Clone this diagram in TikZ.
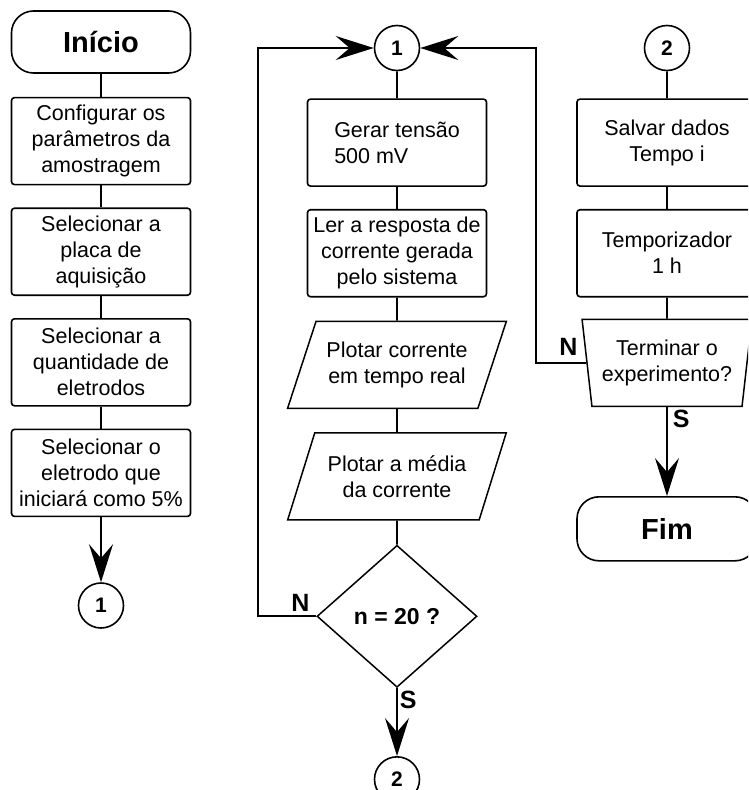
\documentclass[tikz,border=0pt]{standalone}
\usepackage{fontspec}
\setmainfont{Liberation Sans}
\usepackage{tikz}
\usetikzlibrary{arrows.meta, shapes.geometric, positioning}

\tikzset{
	proc/.style={rectangle, draw, line width=1.6pt, rounded corners=3pt, minimum width=179pt, minimum height=87pt, inner sep=2pt, align=center, font=\fontsize{21.5}{26}\selectfont},
	term/.style={rectangle, draw, line width=1.6pt, rounded corners=22pt, minimum width=179pt, minimum height=62pt, font=\fontsize{29}{34}\selectfont\bfseries},
	io/.style={trapezium, trapezium left angle=63, trapezium right angle=117, trapezium stretches=true, draw, line width=1.5pt, minimum width=219pt, minimum height=87pt, inner sep=2pt, align=center, font=\fontsize{21.5}{26}\selectfont},
	ask/.style={trapezium, trapezium left angle=100, trapezium right angle=100, trapezium stretches=true, draw, line width=1.5pt, minimum width=170pt, minimum height=87pt, inner sep=2pt, align=center, font=\fontsize{21.5}{26}\selectfont},
	test/.style={diamond, draw, line width=1.5pt, minimum width=160pt, minimum height=142pt, inner sep=0pt, font=\fontsize{23}{27}\selectfont\bfseries},
	conn/.style={circle, draw, line width=1.6pt, minimum size=45pt, inner sep=0pt, font=\fontsize{21}{24}\selectfont\bfseries},
	yn/.style={font=\fontsize{25}{28}\selectfont\bfseries, inner sep=2pt},
	line/.style={line width=1.8pt},
	arr/.style={line, -{Stealth[length=38pt, width=24pt, inset=14pt]}}
}

\begin{document}
\begin{tikzpicture}[x=1pt, y=-1pt]
	\useasboundingbox (0,0) rectangle (748,790);
	\clip (0,0) rectangle (748,790);

	% configuracao inicial
	\node[term] (ini) at (101,42) {Início};
	\node[proc, below=23pt of ini] (cfg) {Configurar os\\parâmetros da\\amostragem};
	\node[proc, below=22pt of cfg] (plc) {Selecionar a\\placa de\\aquisição};
	\node[proc, below=22pt of plc] (qtd) {Selecionar a\\quantidade de\\eletrodos};
	\node[proc, below=22pt of qtd] (ele) {Selecionar o\\eletrodo que\\iniciará como 5\%};
	\node[conn, below=65pt of ele] (c1a) {1};

	% laco de medicao
	\node[conn] (c1b) at (397,48) {1};
	\node[proc, below=27pt of c1b, align=left] (ger) {Gerar tensão\\500 mV};
	\node[proc, below=22pt of ger] (ler) {Ler a resposta de\\corrente gerada\\pelo sistema};
	\node[io, below=23pt of ler] (pt1) {Plotar corrente\\em tempo real};
	\node[io, below=23pt of pt1] (pt2) {Plotar a média\\da corrente};
	\node[test, below=24pt of pt2] (dec) {n = 20 ?};
	\node[conn, below=68pt of dec] (c2a) {2};

	% gravacao e fim
	\node[conn] (c2b) at (667,48) {2};
	\node[proc, below=27pt of c2b, minimum width=180pt] (slv) {Salvar dados\\Tempo i};
	\node[proc, below=22pt of slv, minimum width=180pt] (tmp) {Temporizador\\1 h};
	\node[ask, below=21pt of tmp] (ter) {Terminar o\\experimento?};
	\node[term, below=89pt of ter, minimum width=180pt, minimum height=64pt] (fim) {Fim};

	\coordinate (lft) at (258,0);
	\coordinate (rgt) at (536,0);

	\draw[line] (ini) -- (cfg) -- (plc) -- (qtd) -- (ele);
	\draw[arr] (ele) -- (c1a);

	\draw[line] (c1b) -- (ger) -- (ler) -- (pt1) -- (pt2) -- (dec);
	\draw[arr] (dec.south) node[yn, below right] {S} -- (c2a);
	\draw[arr] (dec.west) node[yn, above left, xshift=-4pt, yshift=2pt] {N} -- (dec.west -| lft) |- (c1b.west);

	\draw[line] (c2b) -- (slv) -- (tmp) -- (ter);
	\draw[arr] (ter.south) node[yn, below right, xshift=3pt] {S} -- (fim);
	\draw[arr] (ter.west) node[yn, above left, xshift=-6pt, yshift=4pt] {N} -- (ter.west -| rgt) |- (c1b.east);
\end{tikzpicture}
\end{document}
